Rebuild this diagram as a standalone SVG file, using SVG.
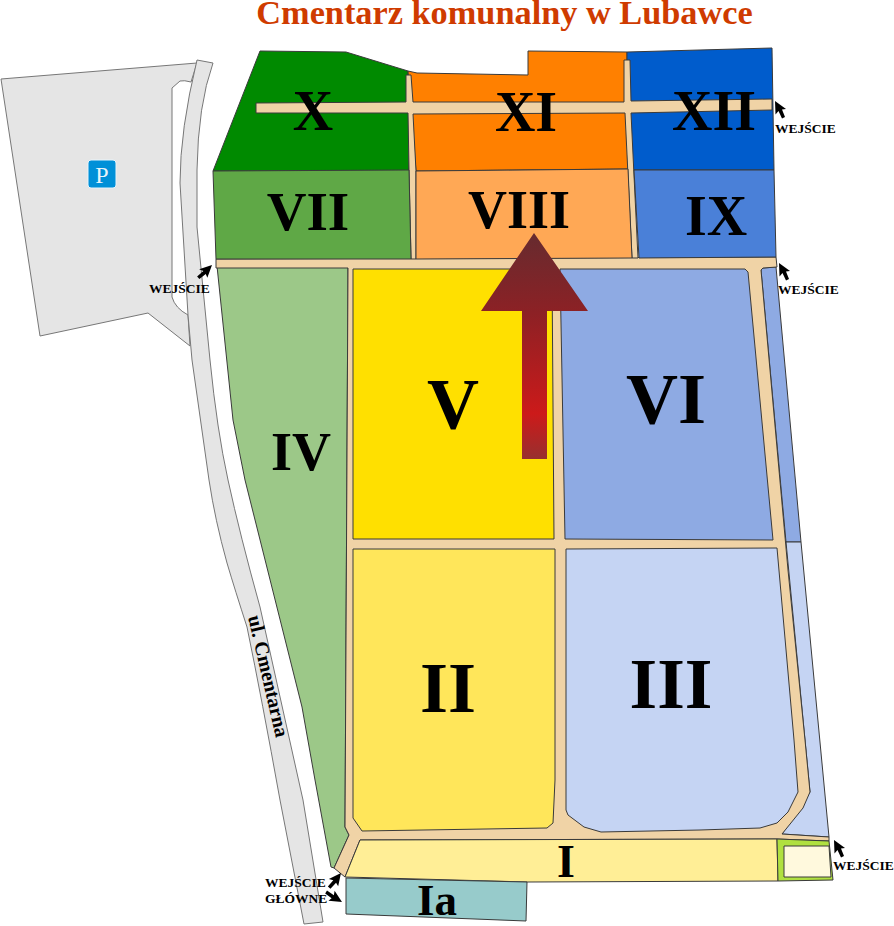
<svg xmlns="http://www.w3.org/2000/svg" width="894" height="926" viewBox="0 0 894 926">
<style>
.s{stroke:#3a3a3a;stroke-width:1;stroke-linejoin:round}
.g{fill:#e5e5e5;stroke:#777;stroke-width:1}
.r{fill:#f0d3a6}
text{font-family:"Liberation Serif","Times New Roman",serif;font-weight:bold;fill:#000}
.l{text-anchor:middle}
.w{font-size:13.5px}
</style>
<defs>
<linearGradient id="ag" gradientUnits="userSpaceOnUse" x1="534" y1="233" x2="534" y2="459">
<stop offset="0" stop-color="#662b2f"/><stop offset="0.35" stop-color="#8c2125"/><stop offset="0.8" stop-color="#cc1a1a"/><stop offset="1" stop-color="#98302f"/>
</linearGradient>
<path id="cur" d="M0,0L11,8L7,8.5L10,16L7,17.5L3.5,10L0.5,13.5Z" fill="#000"/>
</defs>
<rect width="894" height="926" fill="#fff"/>
<text id="title" x="504.500" y="23.500" class="l" font-size="34.300" style="fill:#cf3b00">Cmentarz komunalny w Lubawce</text>
<g id="parking">
<path class="g" d="M1,79L197,63L191,82Q184,80 180,81L172,88L172,297Q175,308 188,315L190,346L148,313L40,336Z"/>
<rect x="88" y="160" width="28" height="28" rx="3" fill="#0090d8" stroke="#e8f4fb" stroke-width="1"/>
<text x="102" y="183" class="l" font-size="24" style="fill:#e8f4fb;font-weight:normal">P</text>
</g>
<g id="road-cmentarna">
<path class="g" d="M197,60L213,63Q198,105 197,170L197,227L210,360Q217,430 228,480Q240,535 260,607L303,800L323,922L304,924L280,800Q262,700 247,627Q235,590 227,563Q215,520 209,480L192,360L188,315L180,183Q180,130 197,60Z"/>
<text transform="translate(248,617) rotate(77)" font-size="20">ul. Cmentarna</text>
</g>
<g id="section-x"><path class="s" fill="#008a00" d="M260,51L346,52L408,71L409,171L213,171Z"/></g>
<g id="section-xi"><path class="s" fill="#ff8000" d="M408,71L417,73L528,75L528,51L627,52L628,169L416,171Z"/></g>
<g id="section-xii"><path class="s" fill="#005ccc" d="M627,52L772,48L774,170L633,170L627,100Z"/></g>
<g id="section-iv"><path class="s" fill="#9cc888" d="M217,266L348,266L345,827L349,835L334,868L331,867L315,780L302,707L245,480L233,420Z"/></g>
<g id="strip-blue"><path class="s" fill="#8eaae3" d="M761,270L763,268L776,267L801,542L786,542Z"/><path class="s" fill="#c5d4f3" d="M786,542L801,542L829,837L782,834L810,792L805,740Z"/></g>
<g id="roads">
<path class="s r" d="M216,259L776,257L777,267L763,268L761,270L788,570L805,740L810,792L803,808L782,834L829,837L829,841L777,839L360,840L345,877L334,868L349,835L345,827L348,268L216,268Z"/>
<path class="s r" d="M256,103L406,102L406,75L411,75L413,102L624,102L624,60L630,60L631,101L772,99L772,110L631,113L638,258L632,258L625,113L413,114L416,171L416,259L411,259L409,170L408,113L256,113Z"/>
</g>
<g id="section-vii"><path class="s" fill="#5fa846" d="M213,171L409,170L411,259L216,259Z"/></g>
<g id="section-viii"><path class="s" fill="#ffa855" d="M416,171L628,169L632,258L416,259Z"/></g>
<g id="section-ix"><path class="s" fill="#4a80d8" d="M634,170L774,170L776,257L639,258Z"/></g>
<g id="section-v"><path class="s" fill="#ffe000" d="M353,269L552,269L554,539L353,539Z"/></g>
<g id="section-vi"><path class="s" fill="#8eaae3" d="M560,269L745,269L748,272L773,540L565,539Z"/></g>
<g id="section-ii"><path class="s" fill="#ffe65a" d="M353,549L555,549L555,780L553,823L547,828L362,831L353,818Z"/></g>
<g id="section-iii"><path class="s" fill="#c5d4f3" d="M566,549L777,548L794,740L798,792L788,812L777,823L760,828L700,830L601,832L584,827L568,815L566,810Z"/></g>
<g id="section-i"><path class="s" fill="#ffee96" d="M360,840L777,839L778,881L527,882L345,877Z"/></g>
<g id="section-ia"><path class="s" fill="#97cbcb" d="M346,878L527,882L526,921L346,914Z"/></g>
<g id="section-green"><path class="s" fill="#b0e040" d="M777,839L829,841L833,880L778,881Z"/><path class="s" fill="#fff9dd" d="M784,846L829,846L831,877L784,877Z"/></g>
<g id="section-labels">
<text class="l" x="313" y="130" font-size="56">X</text>
<text class="l" x="526" y="131" font-size="56">XI</text>
<text class="l" x="714" y="130" font-size="56">XII</text>
<text class="l" x="308" y="230" font-size="55">VII</text>
<text class="l" x="519" y="228" font-size="54">VIII</text>
<text class="l" x="716" y="235" font-size="56">IX</text>
<text class="l" x="301" y="470" font-size="54">IV</text>
<text class="l" x="453" y="428" font-size="72">V</text>
<text class="l" x="666" y="423" font-size="72">VI</text>
<text class="l" x="448" y="712" font-size="72">II</text>
<text class="l" x="671" y="708" font-size="71">III</text>
<text class="l" x="566" y="877" font-size="46">I</text>
<text class="l" x="437" y="915" font-size="45">Ia</text>
</g>
<g id="direction-arrow"><path fill="url(#ag)" d="M534,233L588,311L547,311L547,459L522,459L522,311L481,311Z"/></g>
<g id="connectors">
<use href="#cur" transform="translate(775,101)"/>
<use href="#cur" transform="translate(779,263)"/>
<use href="#cur" transform="translate(834,840)"/>
<use href="#cur" transform="translate(212,265) rotate(74)"/>
<use href="#cur" transform="translate(341,873) rotate(66)"/>
<use href="#cur" transform="translate(342,902) rotate(149)"/>
</g>
<g id="entrance-labels">
<text class="w" x="149" y="293">WEJŚCIE</text>
<text class="w" x="775" y="133">WEJŚCIE</text>
<text class="w" x="778" y="294">WEJŚCIE</text>
<text class="w" x="833" y="870">WEJŚCIE</text>
<text class="w" x="265" y="887">WEJŚCIE</text>
<text class="w" x="265" y="903">GŁÓWNE</text>
</g>
</svg>
